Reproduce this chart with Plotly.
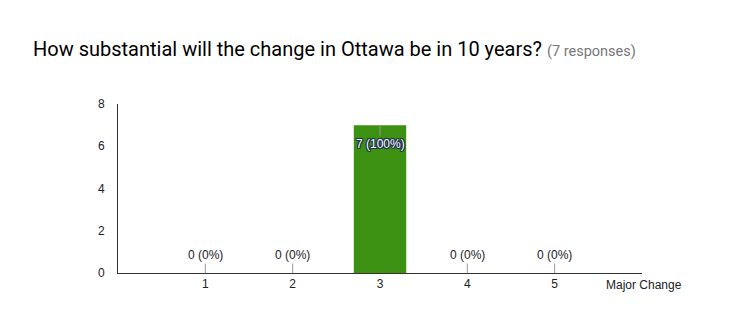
import plotly.graph_objects as go

categories = [1, 2, 3, 4, 5]
counts = [0, 0, 7, 0, 0]
total = 7
y_ticks = [0, 2, 4, 6, 8]
title_text = "How substantial will the change in Ottawa be in 10 years?"
subtitle_text = "(7 responses)"
x_axis_label = "Major Change"

labels = [f"{c} ({round(100 * c / total)}%)" for c in counts]

fig = go.Figure()
fig.add_trace(go.Bar(x=categories, y=counts, width=0.6,
                     marker=dict(color="#3c9112", line=dict(width=0)),
                     hoverinfo="skip"))

oc = "#1e2f50"
outline = (f"1px 1px 0 {oc}, -1px -1px 0 {oc}, 1px -1px 0 {oc}, -1px 1px 0 {oc}, "
           f"0 1px 0 {oc}, 0 -1px 0 {oc}, 1px 0 0 {oc}, -1px 0 0 {oc}")
for x, c, lab in zip(categories, counts, labels):
    inside = c > 0
    fig.add_annotation(
        x=x, y=c, xref="x", yref="y", text=lab, showarrow=True,
        arrowhead=0, arrowwidth=1, arrowcolor="#999999", standoff=0,
        ax=0, ay=19 if inside else -18,
        font=dict(family="Liberation Sans, Arial", size=12,
                  color="white" if inside else "#222222",
                  shadow=outline if inside else "none"),
    )

fig.add_annotation(x=5.57, y=0, xref="x", yref="y", yshift=-12, xanchor="left",
                   yanchor="middle", text=x_axis_label, showarrow=False,
                   font=dict(family="Liberation Sans, Arial", size=12, color="#222222"))

fig.update_layout(
    width=755, height=328,
    margin=dict(l=118, r=113, t=104, b=55),
    paper_bgcolor="white", plot_bgcolor="white",
    showlegend=False,
    title=dict(text=f"{title_text} <span style='font-size:14.5px;color:#777777'>{subtitle_text}</span>",
               x=33 / 755, xanchor="left", xref="container", y=1 - 49 / 328, yanchor="middle",
               yref="container",
               font=dict(family="Roboto, Arial", size=20, color="#000000")),
    xaxis=dict(range=[0, 6], tickvals=categories, ticktext=[str(c) for c in categories],
               showgrid=False, zeroline=False, showline=True, linecolor="#333333",
               linewidth=1, ticks="", fixedrange=True,
               tickfont=dict(family="Liberation Sans, Arial", size=12, color="#222222")),
    yaxis=dict(range=[0, 8], tickvals=y_ticks, showgrid=False, zeroline=False,
               showline=True, linecolor="#333333", linewidth=1, ticks="",
               ticklabelstandoff=10,
               tickfont=dict(family="Liberation Sans, Arial", size=12, color="#222222")),
)

fig.write_html("out.html")
